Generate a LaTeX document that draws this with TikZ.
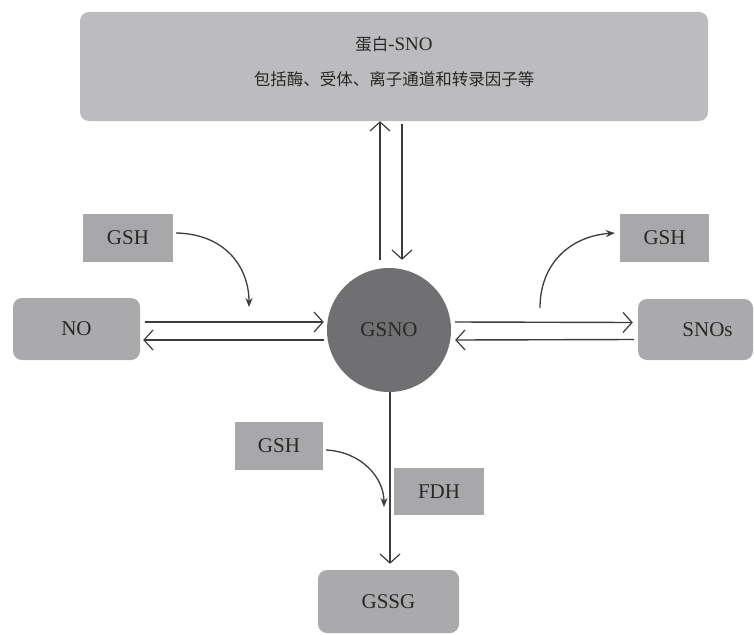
\documentclass[tikz,border=0pt]{standalone}
\usepackage{fontspec}
\setmainfont{Liberation Serif}
\newfontfamily\cjk{Noto Sans CJK SC}
\usetikzlibrary{arrows.meta,calc}
\definecolor{topfill}{RGB}{188,188,191}
\definecolor{boxfill}{RGB}{170,170,173}
\definecolor{gshfill}{RGB}{168,168,170}
\definecolor{circfill}{RGB}{112,112,114}
\definecolor{linec}{RGB}{60,60,60}
\definecolor{txt}{RGB}{40,40,40}
\tikzset{
  rbox/.style={draw=none, fill=boxfill, rounded corners=9pt, text=txt, font=\fontsize{21}{25}\selectfont, inner sep=0pt},
  gbox/.style={draw=none, fill=gshfill, text=txt, font=\fontsize{21}{25}\selectfont, inner sep=0pt},
  openarr/.style={draw=linec, line width=1.4pt, -{Straight Barb[length=9pt,width=20pt,line width=1.2pt]}},
  curvarr/.style={draw=linec, line width=1.3pt, -{Stealth[length=9pt,width=7pt]}}
}
\begin{document}
\begin{tikzpicture}[x=1pt,y=-1pt]
\useasboundingbox[fill=white] (0,0) rectangle (754,634);
% top box
\node[rbox, fill=topfill, minimum width=628pt, minimum height=109pt, align=center] (top) at (394,66.5) {};
\node[text=txt, align=center, font=\fontsize{19}{35}\selectfont] (toptxt) at (394,62) {{\cjk\fontsize{16.5}{20}\selectfont 蛋白}-SNO\\{\cjk\fontsize{16.5}{20}\selectfont 包括酶、受体、离子通道和转录因子等}};
% circle
\node[circle, fill=circfill, minimum size=124pt, inner sep=0pt, text=txt, font=\fontsize{21}{25}\selectfont] (gsno) at (389,330) {GSNO};
% boxes
\node[rbox, minimum width=127pt, minimum height=62pt] (no) at (76.5,329) {NO};
\node[rbox, minimum width=115pt, minimum height=61pt] (snos) at (695.5,329.5) {\hspace*{24pt}SNOs};
\node[rbox, minimum width=141pt, minimum height=63pt] (gssg) at (388.5,601.5) {GSSG};
\node[gbox, minimum width=90pt, minimum height=48pt] (gshl) at (128,238) {GSH};
\node[gbox, minimum width=89pt, minimum height=48pt] (gshr) at (664.5,238) {GSH};
\node[gbox, minimum width=88pt, minimum height=48pt] (gshb) at (279,446) {GSH};
\node[gbox, minimum width=90pt, minimum height=47pt] (fdh) at (439,491.5) {FDH};
% vertical arrows to top box
\coordinate (ua0) at ($(gsno.north)+(-9,-8)$);
\coordinate (da1) at ($(gsno.north)+(13,-8)$);
\draw[openarr] (ua0) -- (ua0 |- top.south);
\draw[openarr] ($(da1 |- top.south)+(0,3)$) -- (da1);
% horizontal arrows left
\draw[openarr] ($(no.east)+(5,-7)$) -- ($(gsno.west)+(-3,-8)$);
\draw[openarr] ($(gsno.west)+(-3,10)$) -- ($(no.east)+(3,11)$);
% horizontal arrows right
\draw[openarr] ($(gsno.east)+(4,-8)$) -- ($(snos.west)+(-5,-7)$);
\draw[openarr] ($(snos.west)+(-4,10)$) -- ($(gsno.east)+(4,10)$);
% down arrow to GSSG
\draw[openarr] ($(gsno.south)+(1,0)$) -- ($(gssg.north)+(1.5,-6)$);
% curved arrows
\coordinate (cl) at (249,307);
\coordinate (cr0) at (540,308);
\coordinate (cb) at (384,507);
\draw[curvarr] ($(gshl.east)+(3,-5)$) .. controls (226,234) and (249,268) .. (cl);
\draw[curvarr] (cr0) .. controls (540,262) and (572,236) .. ($(gshr.west)+(-5,-5)$);
\draw[curvarr] ($(gshb.east)+(3,4)$) .. controls (362,452) and (384,478) .. (cb);
\end{tikzpicture}
\end{document}
